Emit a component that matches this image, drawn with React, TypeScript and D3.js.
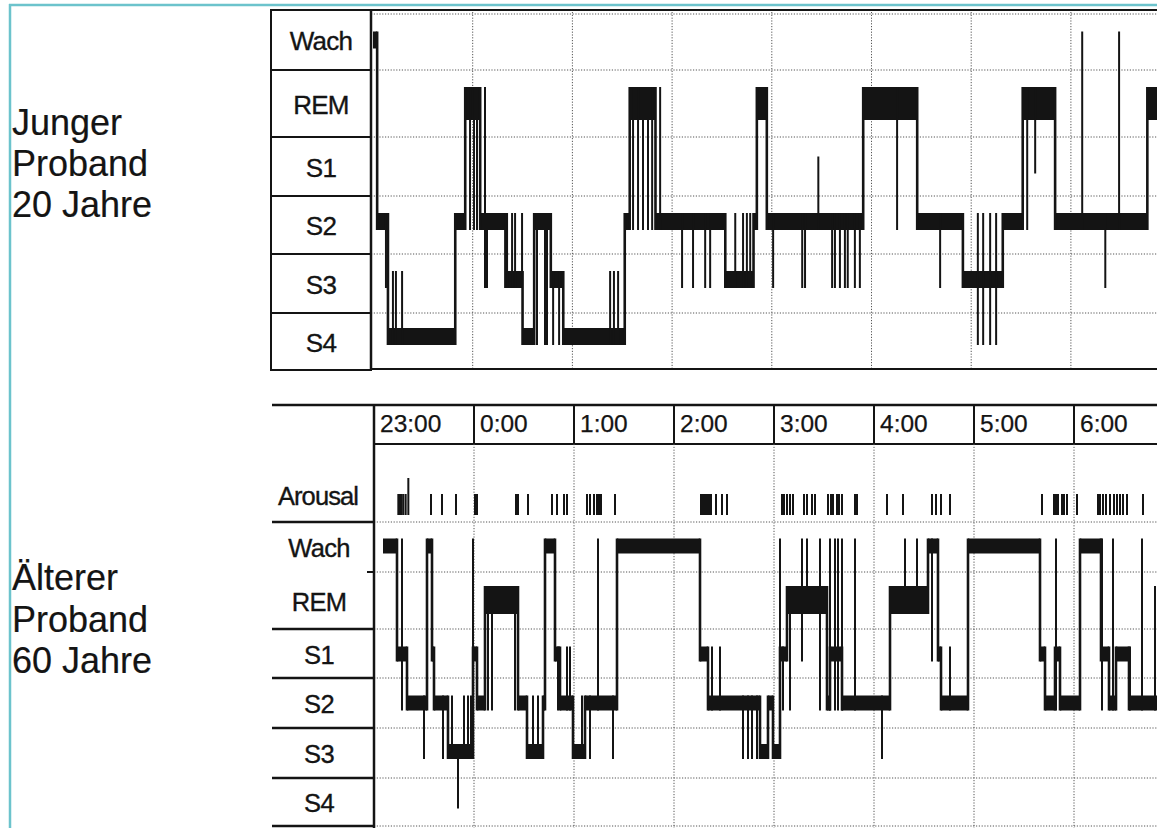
import React from "react";
import * as d3 from "d3";

const stages = ["Wach", "REM", "S1", "S2", "S3", "S4"];
const arousalLabel = "Arousal";
const hourLabels = ["23:00", "0:00", "1:00", "2:00", "3:00", "4:00", "5:00", "6:00"];
const hourMinutes = [0, 60, 120, 180, 240, 300, 360, 420];
const youngTitle = ["Junger", "Proband", "20 Jahre"];
const olderTitle = ["Älterer", "Proband", "60 Jahre"];

// minutes after 23:00, stage
const youngSegments: [number, number, string][] = [
  [0, 2.5, "Wach"], [2.5, 9, "S2"], [9, 49.5, "S4"], [49.5, 55.5, "S2"],
  [55.5, 64.5, "REM"], [64.5, 80.5, "S2"], [80.5, 90, "S3"], [90, 97, "S4"],
  [97, 107, "S2"], [107, 114.5, "S3"], [114.5, 151.5, "S4"], [151.5, 154.5, "S2"],
  [154.5, 170, "REM"], [170, 212, "S2"], [212, 229, "S3"], [229, 231, "S2"],
  [231, 237, "REM"], [237, 295, "S2"], [295, 327.5, "REM"], [327.5, 355, "S2"],
  [355, 379, "S3"], [379, 391, "S2"], [391, 410.5, "REM"], [410.5, 466, "S2"],
  [466, 482, "REM"],
];

const youngSpikes: [number, string, string][] = [
  [7.8, "S2", "S3"], [12, "S4", "S3"], [13.8, "S4", "S3"], [17.5, "S4", "S3"],
  [58.4, "REM", "S2"], [60.8, "REM", "S2"], [62.6, "REM", "S2"], [67.4, "REM", "S3"],
  [68.6, "S2", "S3"], [79.5, "S2", "S3"], [83.7, "S3", "S2"], [85.5, "S3", "S2"],
  [89.7, "S3", "S2"], [98.7, "S2", "S4"], [103.5, "S2", "S4"], [104.7, "S2", "S4"],
  [108.4, "S3", "S4"], [112, "S3", "S4"], [142.7, "S4", "S3"], [145, "S4", "S3"],
  [147.5, "S4", "S3"], [156.5, "REM", "S2"], [159.5, "REM", "S2"], [162.5, "REM", "S2"],
  [165.5, "REM", "S2"], [168, "REM", "S2"], [172.8, "REM", "S2"], [186, "S2", "S3"],
  [192.6, "S2", "S3"], [199.9, "S2", "S3"], [202.9, "S2", "S3"], [218, "S3", "S2"],
  [222.7, "S3", "S2"], [225, "S3", "S2"], [227, "S3", "S2"], [240.8, "S2", "S3"],
  [258.3, "S2", "S3"], [260, "S2", "S3"], [268, "S2", "S1"], [276.3, "S2", "S3"],
  [278, "S2", "S3"], [281, "S2", "S3"], [284, "S2", "S3"], [285.7, "S2", "S3"],
  [290, "S2", "S3"], [293, "S2", "S3"], [315.4, "REM", "S2"], [341.3, "S2", "S3"],
  [364, "S2", "S4"], [367.2, "S2", "S4"], [371.4, "S2", "S4"], [375, "S2", "S4"],
  [393.7, "REM", "S2"], [398.5, "REM", "S1"], [426.8, "S2", "Wach"], [449, "S2", "Wach"],
  [440.7, "S2", "S3"],
];

const olderSegments: [number, number, string][] = [
  [5.4, 13.8, "Wach"], [13.8, 19.8, "S1"], [19.8, 31.8, "S2"], [31.8, 34.8, "Wach"],
  [34.8, 36, "S1"], [36, 44.4, "S2"], [44.4, 59.4, "S3"], [59.4, 61.8, "S1"],
  [61.8, 66.6, "S2"], [66.6, 86.4, "REM"], [86.4, 91.8, "S2"], [91.8, 101.4, "S3"],
  [101.4, 102.6, "S2"], [102.6, 108.6, "Wach"], [108.6, 111.6, "S1"], [111.6, 119.4, "S2"],
  [119.4, 126.6, "S3"], [126.6, 145.8, "S2"], [145.8, 195.6, "Wach"], [195.6, 200.4, "S1"],
  [200.4, 231.6, "S2"], [231.6, 236.4, "S3"], [236.4, 239.4, "S2"], [239.4, 243.6, "S3"],
  [243.6, 247.8, "S1"], [247.8, 271.8, "REM"], [271.8, 273.6, "S2"], [273.6, 280.8, "S1"],
  [280.8, 309.6, "S2"], [309.6, 332.4, "REM"], [332.4, 338.4, "Wach"], [338.4, 340.2, "S1"],
  [340.2, 356.4, "S2"], [356.4, 399.6, "Wach"], [399.6, 402.6, "S1"], [402.6, 408.6, "S2"],
  [408.6, 411.6, "S1"], [411.6, 423.6, "S2"], [423.6, 436.2, "Wach"], [436.2, 441, "S1"],
  [441, 445.2, "S2"], [445.2, 453, "S1"], [453, 470, "S2"],
];

const olderSpikes: [number, string, string][] = [
  [16.8, "Wach", "S2"], [30, "S2", "S3"], [41.4, "S2", "S3"], [46.8, "S3", "S2"],
  [54, "S3", "S2"], [56.4, "S3", "S2"], [58.2, "S3", "S2"], [50.4, "S3", "S4"],
  [59.4, "Wach", "S3"], [68.4, "REM", "S2"], [70.8, "REM", "S2"], [84.6, "REM", "S2"],
  [95.4, "S3", "S2"], [98.4, "S3", "S2"], [110.4, "S1", "S2"], [115.8, "S2", "S1"],
  [117.6, "S2", "S1"], [124.8, "S2", "S3"], [129.6, "S2", "S3"], [143.4, "S2", "S3"],
  [134.4, "S2", "Wach"], [202.8, "S2", "S1"], [207.6, "S2", "S1"], [221.4, "S2", "S3"],
  [224.4, "S2", "S3"], [226.8, "S2", "S3"], [229.8, "S2", "S3"], [243.6, "Wach", "S2"],
  [245.4, "S1", "S2"], [249.6, "REM", "S2"], [256.8, "Wach", "S1"], [259.8, "Wach", "REM"],
  [267.6, "Wach", "S2"], [273.6, "Wach", "S2"], [276.6, "Wach", "S2"], [278.4, "Wach", "S2"],
  [280.8, "Wach", "S2"], [288.6, "Wach", "S2"], [304.8, "S2", "S3"], [318.6, "REM", "Wach"],
  [325.8, "REM", "Wach"], [334.8, "Wach", "S1"], [345.6, "S2", "S1"], [409.2, "S2", "Wach"],
  [436.8, "S2", "Wach"], [443.4, "S2", "Wach"], [460.8, "S2", "Wach"], [453.6, "S2", "S1"],
  [468.6, "S2", "REM"],
];

const arousals = [
  14.6, 15.6, 16.6, 17.6, 19, 34.2, 40.8, 49.2, 60.6, 61.8,
  85.2, 86.4, 92.4, 106.8, 109.8, 114, 115.8, 127.8, 129.6, 132, 133.8, 135, 136.2, 144.6,
  196.2, 197.4, 198.6, 199.8, 201, 202.2, 205.2, 208.8, 211.8,
  244.8, 246, 247.8, 249.6, 251.4, 258, 259.8, 262.8, 264.6,
  272.4, 274.2, 275.4, 277.8, 279, 280.8, 288.6, 289.8, 307.8, 317.4,
  334.8, 337.2, 340.2, 345.6, 400.8, 408, 409.2, 410.4, 412.8, 414, 415.8, 421.8,
  434.4, 435.6, 437.4, 439.2, 441.6, 444, 445.8, 447.6, 449.4, 451.8, 461.4,
];
const tallArousals = [20.6];

const FONT = "'Liberation Sans', Arial, Helvetica, sans-serif";
const INK = "#141414";
const TEAL = "#6cc3cc";
const DOT = { stroke: "#555", strokeWidth: 1, strokeDasharray: "1.2 1.6" };
const TXT = { fill: INK, stroke: INK, strokeWidth: 0.35 };

// layout
const W = 1157, H = 828;
const xTop = d3.scaleLinear().domain([0, 480]).range([373, 1170.6]);
const xBot = d3.scaleLinear().domain([0, 480]).range([374, 1174]);
const topRows = [10, 70, 137, 196, 254, 313, 370];
const botRows = [522, 572, 629, 678, 728, 778, 826];
const yTop = d3.scaleOrdinal<string, number>().domain(stages).range([40, 103.5, 165, 221.5, 279.5, 336.5]);
const yBot = d3.scaleOrdinal<string, number>().domain(stages).range([546, 600, 654, 703, 751.5, 801]);
const halfTop = (s: string) => (s === "REM" ? 16.5 : 8.5);
const halfBot = (s: string) => (s === "REM" ? 14 : 7.5);

function Hypno({ segs, spikes, x, y, half }: any) {
  const top = (s: string) => y(s) - half(s);
  const bot = (s: string) => y(s) + half(s);
  return (
    <g>
      {segs.map(([a, b, s]: any, i: number) => (
        <rect key={"r" + i} x={x(a)} y={top(s)} width={Math.max(0, x(b) - x(a))} height={2 * half(s)} fill={INK} />
      ))}
      {segs.slice(1).map(([a, , s]: any, i: number) => {
        const p = segs[i][2];
        return (
          <line key={"t" + i} x1={x(a)} x2={x(a)} y1={Math.min(top(s), top(p))} y2={Math.max(bot(s), bot(p))}
            stroke={INK} strokeWidth={2.6} />
        );
      })}
      {spikes.map(([t, a, b]: any, i: number) => (
        <line key={"s" + i} x1={x(t)} x2={x(t)} y1={Math.min(top(a), top(b))} y2={Math.max(bot(a), bot(b))}
          stroke={INK} strokeWidth={2} />
      ))}
    </g>
  );
}

export default function App() {
  const plotRight = W;
  return (
    <svg width={W} height={H} style={{ position: "fixed", left: 0, top: 0, background: "#fff" }} fontFamily={FONT}>
      <rect x={0} y={0} width={W} height={H} fill="#fff" />
      {/* teal frame */}
      <line x1={10} x2={10} y1={4} y2={H} stroke={TEAL} strokeWidth={2.5} />
      <line x1={9} x2={W} y1={5} y2={5} stroke={TEAL} strokeWidth={2.5} />

      {/* titles */}
      {youngTitle.map((t, i) => (
        <text key={t} x={12} y={135 + i * 41} fontSize={36} {...TXT} strokeWidth={0.2}>{t}</text>
      ))}
      {olderTitle.map((t, i) => (
        <text key={t} x={12} y={590 + i * 41.5} fontSize={36} {...TXT} strokeWidth={0.2}>{t}</text>
      ))}

      {/* ---------- top panel ---------- */}
      <rect x={271} y={10} width={100} height={360} fill="none" stroke={INK} strokeWidth={2} />
      {topRows.slice(1, -1).map((r) => (
        <line key={"lt" + r} x1={271} x2={371} y1={r} y2={r} stroke={INK} strokeWidth={2} />
      ))}
      {stages.map((s, i) => (
        <text key={"st" + s} x={321} y={(topRows[i] + topRows[i + 1]) / 2 + 10} fontSize={26}
          textAnchor="middle" letterSpacing={-0.7} {...TXT}>{s}</text>
      ))}
      {topRows.slice(1, -1).map((r) => (
        <line key={"gt" + r} x1={371} x2={plotRight} y1={r} y2={r} {...DOT} />
      ))}
      <line x1={371} x2={plotRight} y1={14} y2={14} {...DOT} />
      {hourMinutes.slice(1).map((m) => (
        <line key={"vt" + m} x1={xTop(m)} x2={xTop(m)} y1={12} y2={368} {...DOT} />
      ))}
      <line x1={371} x2={plotRight} y1={10} y2={10} stroke={INK} strokeWidth={2} />
      <line x1={371} x2={plotRight} y1={369} y2={369} stroke={INK} strokeWidth={2} />
      <line x1={371} x2={371} y1={10} y2={370} stroke={INK} strokeWidth={2.5} />
      <Hypno segs={youngSegments} spikes={youngSpikes} x={xTop} y={yTop} half={halfTop} />

      {/* ---------- bottom panel ---------- */}
      <line x1={272} x2={plotRight} y1={405} y2={405} stroke={INK} strokeWidth={2.5} />
      <line x1={374} x2={plotRight} y1={444} y2={444} stroke={INK} strokeWidth={2} />
      {hourMinutes.map((m, i) => (
        <g key={"h" + m}>
          <line x1={xBot(m)} x2={xBot(m)} y1={405} y2={444} stroke={INK} strokeWidth={2} />
          <text x={xBot(m) + 6} y={432} fontSize={24.5} {...TXT} strokeWidth={0.25}>{hourLabels[i]}</text>
        </g>
      ))}
      {botRows.map((r) => (
        <line key={"gb" + r} x1={374} x2={plotRight} y1={r} y2={r} {...DOT} />
      ))}
      {hourMinutes.slice(1).map((m) => (
        <line key={"vb" + m} x1={xBot(m)} x2={xBot(m)} y1={444} y2={H} {...DOT} />
      ))}
      {botRows.filter((r, i) => i !== 1).map((r) => (
        <line key={"lb" + r} x1={272} x2={374} y1={r} y2={r} stroke={INK} strokeWidth={2.5} />
      ))}
      <line x1={367} x2={374} y1={botRows[1]} y2={botRows[1]} stroke={INK} strokeWidth={2} />
      <line x1={374} x2={374} y1={405} y2={H} stroke={INK} strokeWidth={2.5} />
      <text x={318} y={505} fontSize={25.5} textAnchor="middle" letterSpacing={-0.9} {...TXT}>{arousalLabel}</text>
      {stages.map((s, i) => (
        <text key={"sb" + s} x={319} y={(botRows[i] + botRows[i + 1]) / 2 + 10} fontSize={25.5}
          textAnchor="middle" letterSpacing={-0.7} {...TXT}>{s}</text>
      ))}
      {arousals.map((m, i) => (
        <rect key={"a" + i} x={xBot(m) - 1} y={494} width={2} height={21} fill={INK} />
      ))}
      {tallArousals.map((m, i) => (
        <rect key={"ta" + i} x={xBot(m) - 1} y={478} width={2} height={37} fill={INK} />
      ))}
      <Hypno segs={olderSegments} spikes={olderSpikes} x={xBot} y={yBot} half={halfBot} />
    </svg>
  );
}
